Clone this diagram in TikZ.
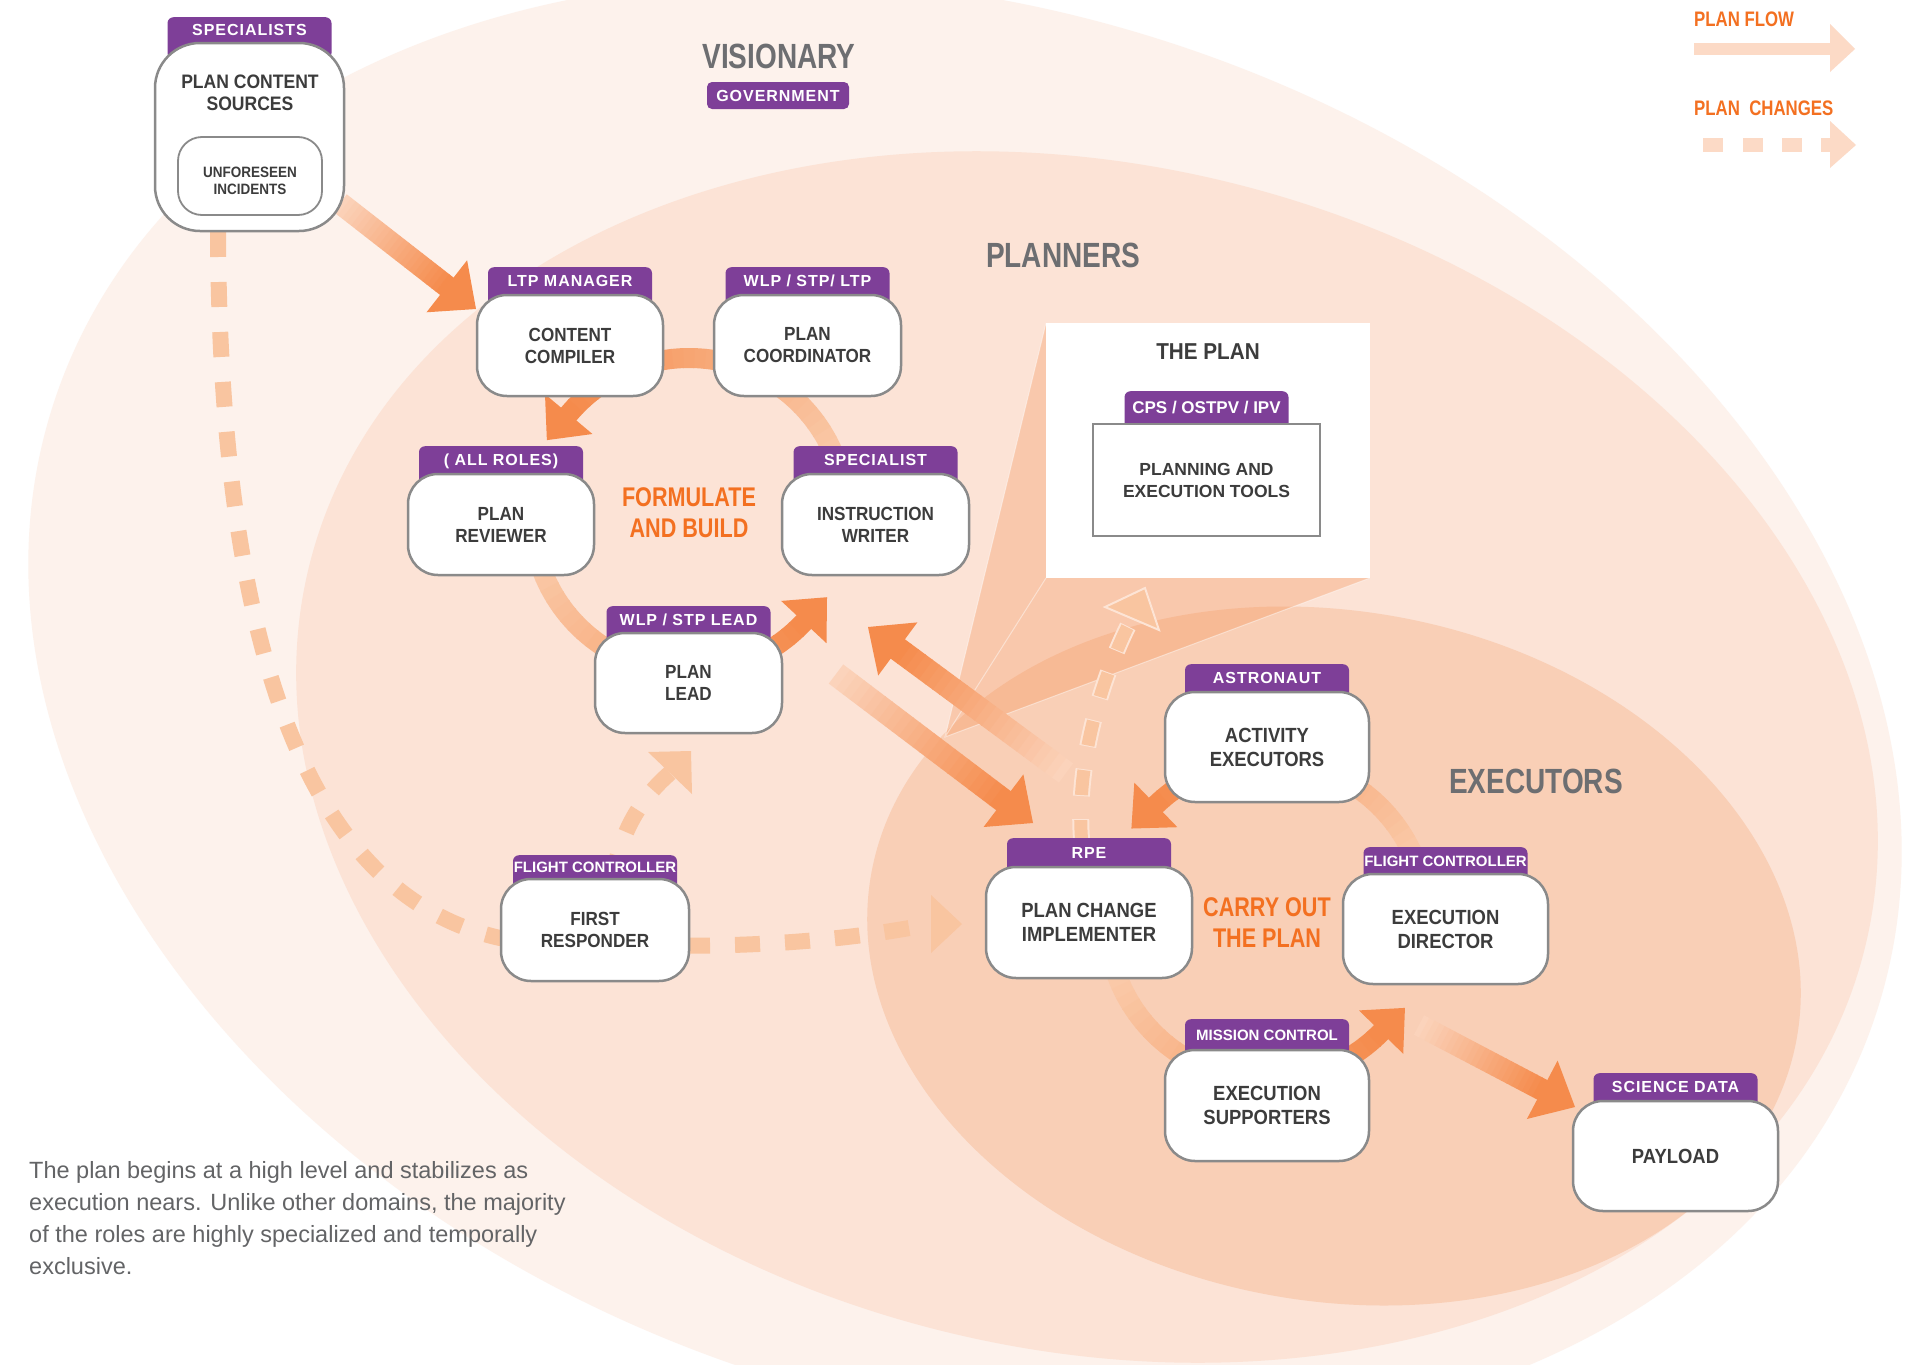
\documentclass[tikz,border=0pt]{standalone}
\usepackage{fontspec}
\setmainfont{Liberation Sans}
\newfontfamily\condfont{Liberation Sans}[FakeStretch=0.9]
\newfontfamily\headfont{Liberation Sans}[FakeStretch=0.8]
\newfontfamily\tabfont{Liberation Sans}[LetterSpace=6]
\newfontfamily\tabtight{Liberation Sans}
\usetikzlibrary{calc}

\definecolor{bgouter}{HTML}{FDF2EC}
\definecolor{bgplan}{HTML}{FCE3D6}
\definecolor{bgexec}{HTML}{F9CFB6}
\definecolor{flowD}{HTML}{F58B4C}
\definecolor{flowL}{HTML}{FBD3BB}
\definecolor{ringL}{HTML}{FAC9A8}
\definecolor{dashC}{HTML}{F9C5A0}
\definecolor{dashEdge}{HTML}{FDE4D5}
\definecolor{legendC}{HTML}{FCDAC6}
\definecolor{tabpurple}{HTML}{7E3F98}
\definecolor{boxgray}{HTML}{8A8A8A}
\definecolor{textdark}{HTML}{3C3C3C}
\definecolor{headgray}{HTML}{6D6E71}
\definecolor{accent}{HTML}{F37021}
\definecolor{bodygray}{HTML}{636466}

% straight flow arrow with a colour ramp: tail, tip, shaft width, head length, head half-width, start mix
\newcommand\gradarrow[6]{%
  \path ($(#2)!#4pt!(#1)$) coordinate (ga-base);
  \foreach \k in {0,...,23}{%
    \pgfmathsetmacro\mix{#6+(100-#6)*\k/23}%
    \draw[line width=#3pt, draw=flowD!\mix!flowL]
      ($(#1)!{\k/24}!(ga-base)$) -- ($(#1)!{(\k+1)/24+0.004}!(ga-base)$);
  }
  \fill[flowD] (#2) -- ($(ga-base)!#5pt!90:(#2)$) -- ($(ga-base)!#5pt!-90:(#2)$) -- cycle;
}

% curved flow arrow on a ring: cx, cy, radius, start angle, head angle, width, start mix
\newcommand\ringarrow[7]{%
  \foreach \k in {0,...,29}{%
    \pgfmathsetmacro\aa{#4+(#5-#4)*\k/30}%
    \pgfmathsetmacro\ab{#4+(#5-#4)*(\k+1)/30+0.4}%
    \pgfmathsetmacro\mix{#7+(100-#7)*\k/29}%
    \draw[line width=#6pt, draw=flowD!\mix!ringL]
      ({#1+#3*cos(\aa)},{#2-#3*sin(\aa)}) arc[start angle=-\aa, end angle=-\ab, radius=#3];
  }
  \coordinate (ra-b) at ({#1+#3*cos(#5)},{#2-#3*sin(#5)});
  \fill[flowD] ({#1+(#3-31)*cos(#5)},{#2-(#3-31)*sin(#5)})
    -- ({#1+(#3+31)*cos(#5)},{#2-(#3+31)*sin(#5)})
    -- ($(ra-b)+({34*cos(#5+90)},{-34*sin(#5+90)})$) -- cycle;
}

% role box with its purple tab: name, cx, cy, width, height, tab top, tab text, body, box style
\newcommand\role[9]{%
  \pgfmathsetmacro\rtop{#3-#5/2}%
  \pgfmathsetmacro\rtabh{\rtop-#6+16}%
  \node[tabshape, minimum height=\rtabh pt, anchor=north] (#1-tab) at (#2,#6) {};
  \node[tablabel] (#1-role) at (#2,{(#6+\rtop)/2}) {#7};
  \node[#9, minimum width=#4pt, minimum height=#5pt] (#1) at (#2,#3) {#8};
}

\begin{document}
\begin{tikzpicture}[x=1pt, y=-1pt,
  tabshape/.style={fill=tabpurple, rounded corners=6pt, minimum width=164pt, inner sep=0pt, draw=none},
  tablabel/.style={text=white, font=\tabfont\bfseries\fontsize{16}{18}\selectfont, inner sep=0pt, text height=11.5pt, text depth=0pt},
  rolebox/.style={draw=boxgray, line width=2.5pt, fill=white, rounded corners=30pt, align=center, text=textdark, inner sep=0pt, font=\condfont\bfseries\fontsize{19}{22}\selectfont},
  execbox/.style={rolebox, font=\condfont\bfseries\fontsize{20.5}{24}\selectfont},
  boxtext/.style={align=center, text=textdark, inner sep=0pt, font=\condfont\bfseries\fontsize{19.5}{22}\selectfont},
  tierlabel/.style={text=headgray, inner sep=0pt, font=\headfont\bfseries\fontsize{35}{40}\selectfont},
  phase/.style={text=accent, align=center, inner sep=0pt, font=\headfont\bfseries\fontsize{27}{31}\selectfont},
  legendlabel/.style={text=accent, inner sep=0pt, anchor=west, font=\headfont\bfseries\fontsize{21}{24}\selectfont},
  changes/.style={draw=dashC, line width=16pt, dash pattern=on 25pt off 25pt}
]
\useasboundingbox (0,0) rectangle (1915,1365);
\fill[white] (0,0) rectangle (1915,1365);

% tiers
\fill[bgouter, rotate around={-19:(965,708)}] (965,708) ellipse [x radius=961, y radius=696];
\fill[bgplan, rotate around={-13.7:(1087,757)}] (1087,757) ellipse [x radius=801, y radius=592];
\fill[bgexec, rotate around={-10:(1334,956)}] (1334,956) ellipse [x radius=470, y radius=345];

% the plan, with its callout wedge
\coordinate (apex) at (945,737);
\fill[flowD, opacity=0.3] (apex) -- (1046,323) -- (1370,578) -- cycle;
\draw[white, opacity=0.45, line width=1pt] (1046,323) -- (apex) -- (1370,578) (apex) -- (1046,578);
\node[fill=white, minimum width=324pt, minimum height=255pt, anchor=north west, inner sep=0pt] (plan) at (1046,323) {};
\node[text=textdark, inner sep=0pt, font=\condfont\bfseries\fontsize{23}{26}\selectfont] (plan-title) at (1208,352) {THE PLAN};
\node[tabshape, minimum height=49pt, anchor=north] (tools-tab) at (1206.5,391) {};
\node[tablabel, font=\tabtight\bfseries\fontsize{17}{19}\selectfont] (tools-role) at (1206.5,407.5) {CPS / OSTPV / IPV};
\node[draw=boxgray, line width=2.5pt, fill=white, minimum width=227pt, minimum height=112pt, align=center, text=textdark, inner sep=0pt, font=\bfseries\fontsize{17.5}{22}\selectfont] (tools) at (1206.5,480) {PLANNING AND\\EXECUTION TOOLS};

% formulate-and-build cycle
\ringarrow{689}{515}{157}{20}{140}{20}{0}
\ringarrow{689}{515}{157}{195}{317}{20}{0}
% carry-out cycle
\ringarrow{1267}{920}{160}{22}{134}{20}{0}
\ringarrow{1267}{920}{160}{200}{315.5}{20}{0}

% straight plan-flow arrows
\coordinate (f1-tail) at (340,203);  \coordinate (f1-tip) at (476,309);
\coordinate (f2-tail) at (836,674);  \coordinate (f2-tip) at (1033,823);
\coordinate (f3-tail) at (1066,773); \coordinate (f3-tip) at (868,627);
\coordinate (f4-tail) at (1419,1025); \coordinate (f4-tip) at (1575,1107);
\gradarrow{f1-tail}{f1-tip}{22}{37}{33}{0}
\gradarrow{f2-tail}{f2-tip}{24}{37}{33}{0}
\gradarrow{f3-tail}{f3-tip}{24}{37}{33}{0}
\gradarrow{f4-tail}{f4-tip}{22}{37}{33}{0}

% plan-change paths
\coordinate (c1-end) at (931,924);
\draw[changes] (218,232) .. controls (220,700) and (330,900) .. (500,938)
  .. controls (650,950) and (800,950) .. (c1-end);
\fill[dashC] (962,924) -- (931,895) -- (931,953) -- cycle;
\coordinate (c2-end) at (670,773);
\draw[changes] (612,880) .. controls (622,825) and (645,795) .. (c2-end);
\fill[dashC] (691,751) -- (692,794) -- (648,752) -- cycle;
\coordinate (c3-end) at (1132,618);
\draw[draw=dashEdge, line width=17pt, dash pattern=on 27pt off 23pt, dash phase=1pt]
  (1082,845) .. controls (1074,760) and (1105,670) .. (c3-end);
\draw[draw=dashC, line width=13pt, dash pattern=on 25pt off 25pt]
  (1082,845) .. controls (1074,760) and (1105,670) .. (c3-end);
\fill[dashC, draw=dashEdge, line width=2pt] (1145,588) -- (1159,630) -- (1105,607) -- cycle;

% plan content sources
\node[tabshape, minimum height=42pt, anchor=north] (src-tab) at (249.5,17) {};
\node[tablabel] (src-role) at (249.5,30) {SPECIALISTS};
\node[rolebox, rounded corners=45pt, minimum width=189pt, minimum height=188pt] (src) at (249.5,137) {};
\node[boxtext] (src-title) at (250,93) {PLAN CONTENT\\SOURCES};
\node[draw=boxgray, line width=1.8pt, fill=white, rounded corners=24pt, minimum width=144pt, minimum height=78pt] (incidents) at (250,176) {};
\node[align=center, text=textdark, inner sep=0pt, font=\condfont\bfseries\fontsize{15}{17}\selectfont] (incidents-label) at (250,181) {UNFORESEEN\\INCIDENTS};

% planners
\role{cc}{570}{345.5}{186}{101}{267}{LTP MANAGER}{CONTENT\\COMPILER}{rolebox}
\role{pc}{807.5}{345.5}{187}{101}{267}{WLP / STP/ LTP}{PLAN\\COORDINATOR}{rolebox}
\role{pr}{501}{524.5}{186}{101}{446}{( ALL ROLES)}{PLAN\\REVIEWER}{rolebox}
\role{iw}{875.5}{524.5}{187}{101}{446}{SPECIALIST}{INSTRUCTION\\WRITER}{rolebox}
\role{pl}{688.5}{683}{187}{100}{606}{WLP / STP LEAD}{PLAN\\LEAD}{rolebox}
\role{fr}{595}{930}{188}{102}{855}{{\tabtight\bfseries\fontsize{15}{17}\selectfont FLIGHT CONTROLLER}}{FIRST\\RESPONDER}{rolebox}

% executors
\role{pci}{1089}{922.5}{206}{111}{838}{RPE}{PLAN CHANGE\\IMPLEMENTER}{execbox}
\role{ae}{1267}{747}{204}{110}{664}{ASTRONAUT}{ACTIVITY\\EXECUTORS}{execbox}
\role{ed}{1445.5}{929}{205}{110}{847}{{\tabtight\bfseries\fontsize{15}{17}\selectfont FLIGHT CONTROLLER}}{EXECUTION\\DIRECTOR}{execbox}
\role{es}{1267}{1105.5}{204}{111}{1019}{{\tabtight\bfseries\fontsize{15}{17}\selectfont MISSION CONTROL}}{EXECUTION\\SUPPORTERS}{execbox}
\role{pay}{1675.5}{1156}{205}{110}{1073}{SCIENCE DATA}{PAYLOAD}{execbox}

% tier and phase labels
\node[tierlabel] (visionary) at (779,56) {VISIONARY};
\node[fill=tabpurple, rounded corners=5pt, minimum width=142pt, minimum height=27pt, inner sep=0pt] (gov) at (778,95.5) {};
\node[tablabel] (gov-label) at (778,95.5) {GOVERNMENT};
\node[tierlabel] (planners) at (1063,255) {PLANNERS};
\node[tierlabel] (executors) at (1536,781) {EXECUTORS};
\node[phase] (formulate) at (689,512.5) {FORMULATE\\AND BUILD};
\node[phase] (carry) at (1267,922.5) {CARRY OUT\\THE PLAN};

% legend
\node[legendlabel] (leg-flow) at (1694,19) {PLAN FLOW};
\fill[legendC] (1694,43) rectangle (1830,55);
\fill[legendC] (1830,24) -- (1855,49) -- (1830,72) -- cycle;
\node[legendlabel] (leg-change) at (1694,108) {PLAN\ \ CHANGES};
\foreach \x in {1703,1743,1782}{\fill[legendC] (\x,138) rectangle ++(20,14);}
\fill[legendC] (1821,138) rectangle (1831,152);
\fill[legendC] (1830,121) -- (1856,145) -- (1830,168) -- cycle;

% note
\node[anchor=north west, align=left, inner sep=0pt, text=bodygray, font=\fontsize{23.5}{32}\selectfont] (note) at (29,1161)
  {The plan begins at a high level and stabilizes as\\
   execution nears. Unlike other domains, the majority\\
   of the roles are highly specialized and temporally\\
   exclusive.};
\end{tikzpicture}
\end{document}
